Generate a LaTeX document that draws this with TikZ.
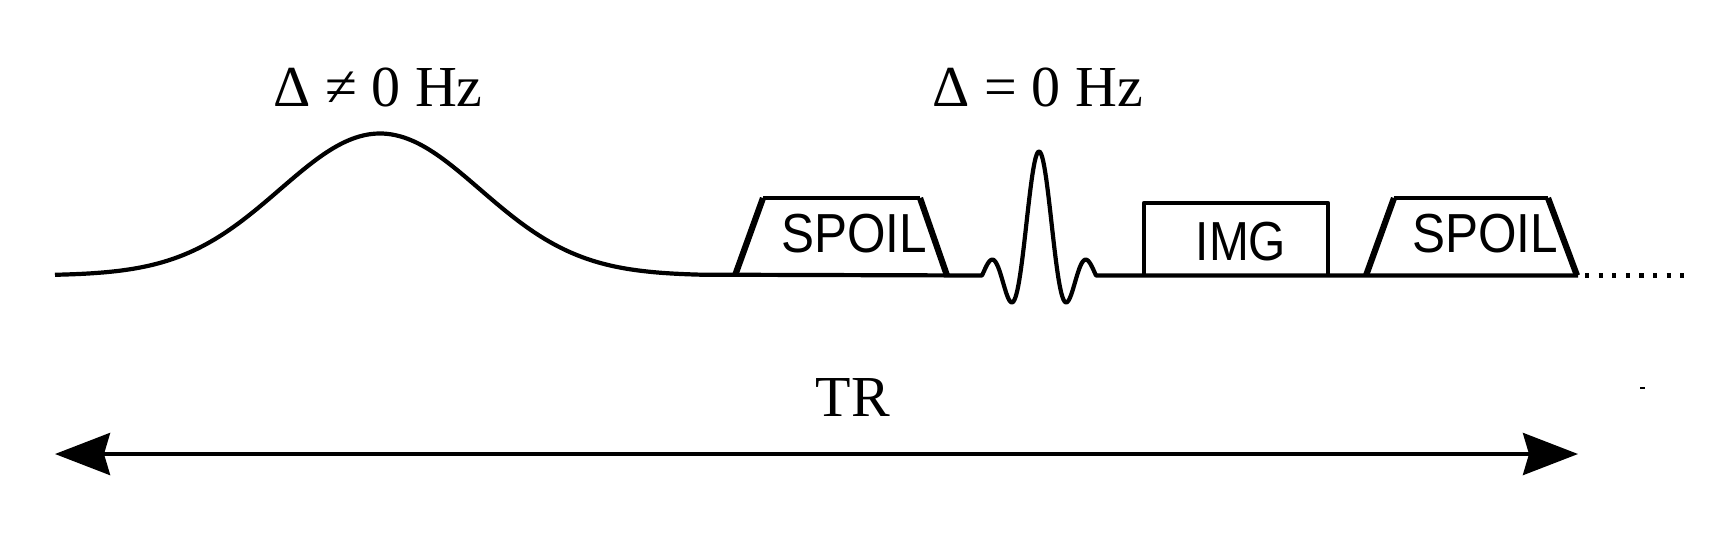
\documentclass[tikz,border=0pt]{standalone}
\usepackage{fontspec}
\usepackage{graphicx}
\setmainfont{Liberation Serif}
\setsansfont{Liberation Sans}
\usetikzlibrary{arrows.meta}
\begin{document}
\begin{tikzpicture}[x=0.5pt,y=-0.5pt,
  wave/.style={line width=2.1pt, line join=round},
  slant/.style={line width=3.1pt},
  lbl/.style={font=\fontsize{29}{30}\selectfont, inner sep=0pt, anchor=base},
  boxlbl/.style={font=\sffamily\fontsize{27.5}{30}\selectfont, inner sep=0pt, anchor=base},
  trtip/.tip={Stealth[length=27.5pt,width=21pt,inset=3pt]},
]
\useasboundingbox (0,0) rectangle (1728,538);
% baseline with gaussian and sinc
\draw[wave] plot[domain=55:700, samples=160, smooth] (\x, {275.5-142*exp(-0.5*((\x-380)/100)^2)})
  -- plot[domain=-3:3, samples=120, smooth] ({1039+19*\x}, {275.5-124*sin(180*\x)/(3.14159*\x)})
  -- (1578,275.5);
% spoiler 1
\draw[slant] (735,275.5) -- (763,198);
\draw[wave] (763,198) -- (920,198);
\draw[slant] (920,198) -- (947,275.5);
% imaging block
\draw[wave] (1144,275.5) -- (1144,203) -- (1328,203) -- (1328,275.5);
% spoiler 2
\draw[slant] (1366,275.5) -- (1394,198);
\draw[wave] (1394,198) -- (1548,198);
\draw[slant] (1548,198) -- (1577,275.5);
% dots
\draw[line width=2.1pt, dash pattern=on 2.1pt off 4.7pt] (1585,275.5) -- (1684,275.5);
% TR arrow
\coordinate (aL) at (55,454);
\coordinate (aR) at (1578,454);
\draw[line width=2pt, trtip-trtip] (aL) -- (aR);
% tiny mark
\draw[line width=0.6pt] (1640,388) -- (1645,388);
% labels
\node[lbl] (d1) at (378,106) {Δ ≠ 0 Hz};
\node[lbl] (d2) at (1038,106) {Δ = 0 Hz};
\node[lbl] (tr) at (853,416) {TR};
\node[boxlbl] (s1) at (854,252) {\scalebox{0.9}[1]{SPOIL}};
\node[boxlbl] (img) at (1241,260) {\scalebox{0.87}[1]{IMG}};
\node[boxlbl] (s2) at (1485,252) {\scalebox{0.9}[1]{SPOIL}};
\end{tikzpicture}
\end{document}
